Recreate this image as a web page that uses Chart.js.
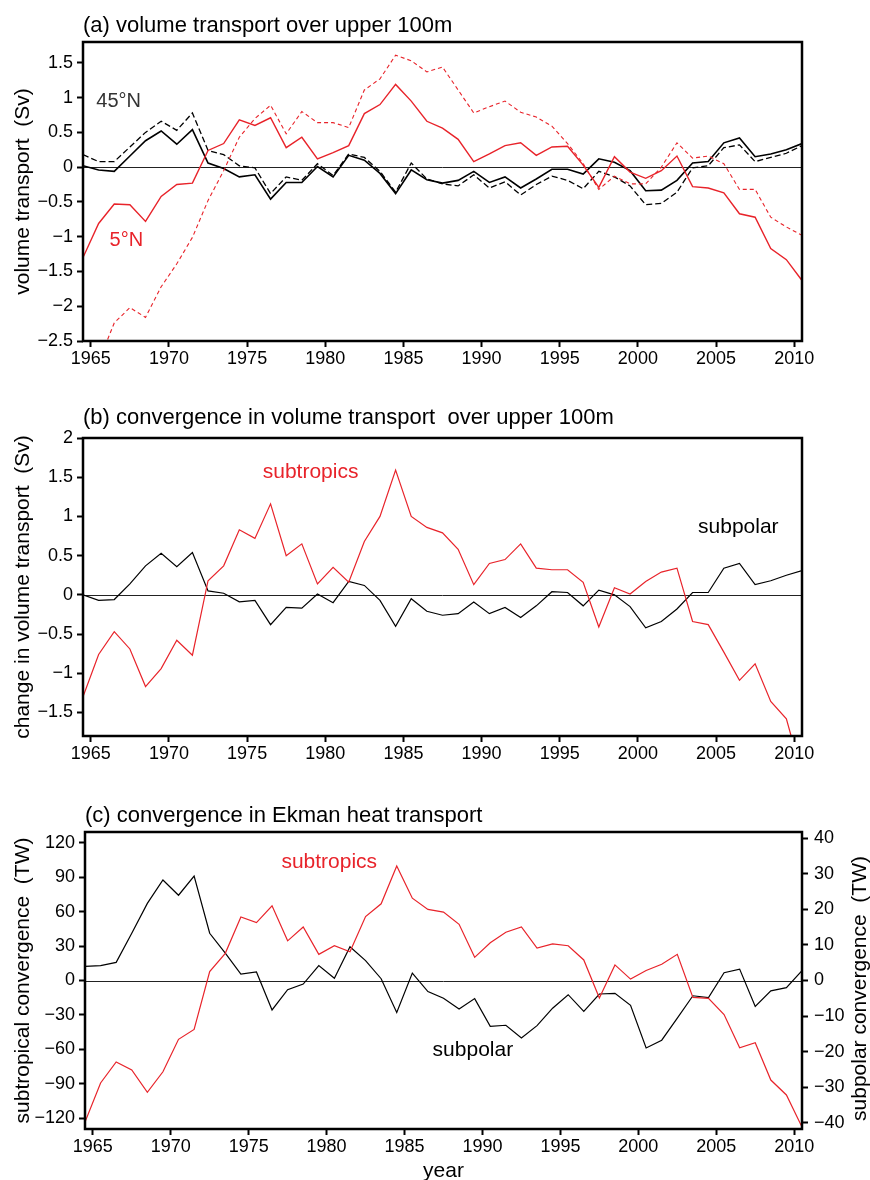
<!DOCTYPE html>
<html><head><meta charset="utf-8">
<script src="https://cdn.jsdelivr.net/npm/chart.js@4.4.1/dist/chart.umd.min.js"></script>
<style>
html,body{margin:0;padding:0;background:#fff}
body{width:870px;height:1180px;overflow:hidden;position:relative}
.p{position:absolute;left:0;width:870px}
</style></head><body>
<div class="p" style="top:0;height:390px"><canvas id="ca"></canvas></div>
<div class="p" style="top:390px;height:395px"><canvas id="cb"></canvas></div>
<div class="p" style="top:785px;height:395px"><canvas id="cc"></canvas></div>
<script>
// ---------- data ----------
const years = [1964.5,1965.5,1966.5,1967.5,1968.5,1969.5,1970.5,1971.5,1972.5,1973.5,
  1974.5,1975.5,1976.5,1977.5,1978.5,1979.5,1980.5,1981.5,1982.5,1983.5,
  1984.5,1985.5,1986.5,1987.5,1988.5,1989.5,1990.5,1991.5,1992.5,1993.5,
  1994.5,1995.5,1996.5,1997.5,1998.5,1999.5,2000.5,2001.5,2002.5,2003.5,
  2004.5,2005.5,2006.5,2007.5,2008.5,2009.5,2010.5];
const xTicks = [1965,1970,1975,1980,1985,1990,1995,2000,2005,2010];

// (a) volume transport over upper 100m (Sv)
const a45N = [0.02,-0.04,-0.06,0.16,0.38,0.52,0.33,0.54,0.06,-0.02,
  -0.14,-0.11,-0.46,-0.22,-0.22,0.01,-0.14,0.17,0.10,-0.09,
  -0.38,-0.04,-0.18,-0.23,-0.19,-0.06,-0.22,-0.14,-0.30,-0.17,
  -0.03,-0.03,-0.10,0.12,0.07,-0.05,-0.34,-0.33,-0.19,0.06,
  0.08,0.35,0.42,0.15,0.19,0.25,0.34];
const a45Ndashed = [0.18,0.08,0.08,0.29,0.50,0.66,0.53,0.78,0.24,0.18,
  0.02,-0.01,-0.38,-0.14,-0.19,0.05,-0.12,0.19,0.14,-0.06,
  -0.36,0.06,-0.17,-0.24,-0.27,-0.11,-0.30,-0.21,-0.40,-0.25,
  -0.13,-0.19,-0.31,-0.06,-0.14,-0.27,-0.54,-0.52,-0.36,-0.01,
  0.02,0.28,0.32,0.08,0.14,0.20,0.31];
const a5N = [-1.30,-0.81,-0.53,-0.54,-0.78,-0.42,-0.25,-0.23,0.24,0.34,
  0.68,0.60,0.71,0.28,0.43,0.12,0.21,0.31,0.77,0.90,
  1.19,0.95,0.66,0.56,0.40,0.08,0.19,0.31,0.35,0.17,
  0.29,0.30,0.03,-0.29,0.15,-0.07,-0.16,-0.05,0.16,-0.28,
  -0.30,-0.37,-0.67,-0.72,-1.17,-1.33,-1.63];
const a5Ndashed = [-3.2,-2.8,-2.24,-2.02,-2.16,-1.72,-1.39,-1.01,-0.48,-0.05,
  0.43,0.70,0.89,0.48,0.80,0.64,0.64,0.57,1.11,1.27,
  1.61,1.53,1.37,1.44,1.11,0.78,0.87,0.95,0.79,0.72,
  0.59,0.34,0.05,-0.32,-0.13,-0.24,-0.24,0.00,0.35,0.13,
  0.16,0.05,-0.32,-0.32,-0.72,-0.86,-0.98];
const aTicks = [-2.5,-2,-1.5,-1,-0.5,0,0.5,1,1.5];

// (b) convergence in volume transport (Sv)
const bSubtropics = [-1.30,-0.76,-0.47,-0.69,-1.17,-0.94,-0.58,-0.77,0.18,0.37,
  0.83,0.72,1.16,0.50,0.65,0.14,0.35,0.16,0.68,1.00,
  1.59,1.00,0.86,0.79,0.58,0.13,0.40,0.45,0.65,0.34,
  0.32,0.32,0.16,-0.41,0.09,0.01,0.17,0.29,0.34,-0.34,
  -0.38,-0.73,-1.09,-0.88,-1.36,-1.58,-2.3];
const bSubpolar = [0.00,-0.07,-0.06,0.14,0.37,0.53,0.36,0.54,0.05,0.02,
  -0.09,-0.07,-0.38,-0.16,-0.17,0.01,-0.10,0.17,0.12,-0.07,
  -0.40,-0.05,-0.21,-0.26,-0.24,-0.09,-0.24,-0.16,-0.29,-0.14,
  0.04,0.03,-0.14,0.06,0.00,-0.15,-0.42,-0.34,-0.18,0.03,
  0.03,0.34,0.40,0.13,0.18,0.25,0.31];
const bTicks = [-1.5,-1,-0.5,0,0.5,1,1.5,2];

// (c) convergence in Ekman heat transport (TW)
const cSubtropics = [-123.5,-89.4,-71,-78,-97.5,-79.6,-51.3,-42.7,7.8,23.7,
  55.4,50.5,65.2,34.6,46.7,22.8,30.3,25.1,55.7,66.9,
  99.8,71.8,62.0,59.7,49.0,20.2,32.9,42.1,46.7,28.3,
  32.0,30.3,17.9,-15.3,13.6,1.2,8.7,14.1,22.8,-14.7,
  -15.6,-29.7,-58.6,-54.2,-86.8,-99.8,-127.8];
const cSubpolar = [4.0,4.2,5.1,13.3,21.7,28.3,24.0,29.4,13.3,7.7,
  1.8,2.4,-8.3,-2.6,-1.0,4.2,0.65,9.5,5.6,0.5,
  -9.0,2.1,-3.1,-5.0,-8.0,-5.1,-12.9,-12.6,-16.2,-12.7,
  -7.8,-4.0,-8.7,-3.8,-3.6,-7.0,-19.0,-16.8,-10.6,-4.3,
  -4.8,2.2,3.2,-7.3,-2.9,-2.0,2.8];
const cLeftTicks = [-120,-90,-60,-30,0,30,60,90,120];
const cRightTicks = [-40,-30,-20,-10,0,10,20,30,40];

// ---------- helpers ----------
const RED = '#e8232a';
const FONT = '"Liberation Sans", Arial, Helvetica, sans-serif';
Chart.defaults.font.family = FONT;
Chart.defaults.color = '#000';
const pts = v => years.map((x, i) => ({x, y: v[i]}));
const fmt = v => (v < 0 ? '\u2212' + Math.abs(v) : String(v));

const decor = {
  id: 'decor',
  beforeDatasetsDraw(chart, args, o) {
    const {ctx, chartArea: a} = chart;
    const py = Math.round(chart.scales.y.getPixelForValue(0)) + 0.5;
    ctx.save();
    ctx.strokeStyle = '#222'; ctx.lineWidth = 1;
    ctx.beginPath(); ctx.moveTo(a.left, py); ctx.lineTo(a.right, py); ctx.stroke();
    ctx.restore();
  },
  afterDatasetsDraw(chart, args, o) {
    const {ctx, chartArea: a} = chart;
    ctx.save();
    ctx.strokeStyle = '#000'; ctx.lineWidth = 2.5;
    ctx.strokeRect(a.left, a.top, a.right - a.left, a.bottom - a.top);
    ctx.fillStyle = '#000';
    ctx.textBaseline = 'middle'; ctx.textAlign = 'left';
    ctx.font = '22px ' + FONT;
    ctx.fillText(o.title, a.left, a.top - o.titleGap);
    (o.labels || []).forEach(l => {
      const ys = chart.scales[l.axis || 'y'];
      ctx.fillStyle = l.color;
      ctx.font = (l.size || 21) + 'px ' + FONT;
      ctx.fillText(l.text, chart.scales.x.getPixelForValue(l.x), ys.getPixelForValue(l.y));
    });
    if (o.rightTitle) {
      ctx.save();
      ctx.fillStyle = '#000';
      ctx.font = '21px ' + FONT;
      ctx.textAlign = 'center';
      ctx.translate(chart.width - 10, (a.top + a.bottom) / 2 + 8);
      ctx.rotate(-Math.PI / 2);
      ctx.fillText(o.rightTitle, 0, 0);
      ctx.restore();
    }
    ctx.restore();
  }
};

function xScale(h, title) {
  return {
    type: 'linear', min: 1964.5, max: 2010.5,
    afterBuildTicks: s => { s.ticks = xTicks.map(v => ({value: v})); },
    afterFit: s => { s.height = h; },
    ticks: {font: {size: 18}, color: '#000', padding: 1, maxRotation: 0, autoSkip: false, callback: v => String(v)},
    grid: {drawOnChartArea: false, drawTicks: true, tickLength: 6, tickWidth: 2, tickColor: '#000'},
    border: {display: false},
    title: title ? {display: true, text: title, font: {size: 21}, color: '#000', padding: {top: 0, bottom: -4}} : {display: false}
  };
}
function yScale(min, max, ticks, title, pos, w, tpad) {
  return {
    type: 'linear', position: pos, min, max,
    afterBuildTicks: s => { s.ticks = ticks.map(v => ({value: v})); },
    afterFit: s => { s.width = w; },
    ticks: {font: {size: 18}, color: '#000', padding: pos === 'right' ? 6 : 4, callback: v => fmt(v)},
    grid: {drawOnChartArea: false, drawTicks: true, tickLength: 6, tickWidth: 2, tickColor: '#000'},
    border: {display: false},
    title: title ? {display: true, text: title, font: {size: 21}, color: '#000', padding: {top: tpad, bottom: 0}} : {display: false}
  };
}
const line = (data, color, width, dash, axis) => ({
  data: pts(data), borderColor: color, borderWidth: width, borderDash: dash || [],
  pointRadius: 0, tension: 0, fill: false, yAxisID: axis || 'y'
});
const base = {
  responsive: true, maintainAspectRatio: false, animation: false, events: []
};

// ---------- panel (a) ----------
new Chart(document.getElementById('ca'), {
  type: 'line',
  data: {datasets: [
    line(a5Ndashed, RED, 1.1, [4, 3]),
    line(a5N, RED, 1.4),
    line(a45Ndashed, '#000', 1.3, [6, 3]),
    line(a45N, '#000', 1.6)
  ]},
  options: Object.assign({}, base, {
    layout: {padding: {top: 42, right: 68, left: 0, bottom: 0}},
    scales: {
      x: xScale(49),
      y: yScale(-2.5, 1.8, aTicks, 'volume transport  (Sv)', 'left', 83, 11)
    },
    plugins: {
      legend: {display: false}, tooltip: {enabled: false},
      decor: {title: '(a) volume transport over upper 100m', titleGap: 16,
        labels: [
          {text: '45\u00b0N', x: 1965.35, y: 0.95, color: '#333', size: 20},
          {text: '5\u00b0N', x: 1966.2, y: -1.06, color: RED, size: 20}
        ]}
    }
  }),
  plugins: [decor]
});

// ---------- panel (b) ----------
new Chart(document.getElementById('cb'), {
  type: 'line',
  data: {datasets: [
    line(bSubtropics, RED, 1.2),
    line(bSubpolar, '#000', 1.2)
  ]},
  options: Object.assign({}, base, {
    layout: {padding: {top: 48, right: 68, left: 0, bottom: 0}},
    scales: {
      x: xScale(49),
      y: yScale(-1.8, 2, bTicks, 'change in volume transport  (Sv)', 'left', 83, 11)
    },
    plugins: {
      legend: {display: false}, tooltip: {enabled: false},
      decor: {title: '(b) convergence in volume transport  over upper 100m', titleGap: 20,
        labels: [
          {text: 'subtropics', x: 1976.0, y: 1.56, color: RED},
          {text: 'subpolar', x: 2003.85, y: 0.86, color: '#000'}
        ]}
    }
  }),
  plugins: [decor]
});

// ---------- panel (c) ----------
new Chart(document.getElementById('cc'), {
  type: 'line',
  data: {datasets: [
    line(cSubtropics, RED, 1.2, null, 'y'),
    line(cSubpolar, '#000', 1.2, null, 'y2')
  ]},
  options: Object.assign({}, base, {
    layout: {padding: {top: 47, right: 0, left: 0, bottom: 0}},
    scales: {
      x: xScale(51, 'year'),
      y: yScale(-129.5, 129.5, cLeftTicks, 'subtropical convergence  (TW)', 'left', 85, 11),
      y2: yScale(-41.8, 41.8, cRightTicks, null, 'right', 68, 0)
    },
    plugins: {
      legend: {display: false}, tooltip: {enabled: false},
      decor: {title: '(c) convergence in Ekman heat transport', titleGap: 16,
        rightTitle: 'subpolar convergence  (TW)',
        labels: [
          {text: 'subtropics', x: 1977.1, y: 103, color: RED},
          {text: 'subpolar', x: 1986.8, y: -61, color: '#000'}
        ]}
    }
  }),
  plugins: [decor]
});
</script>
</body></html>
